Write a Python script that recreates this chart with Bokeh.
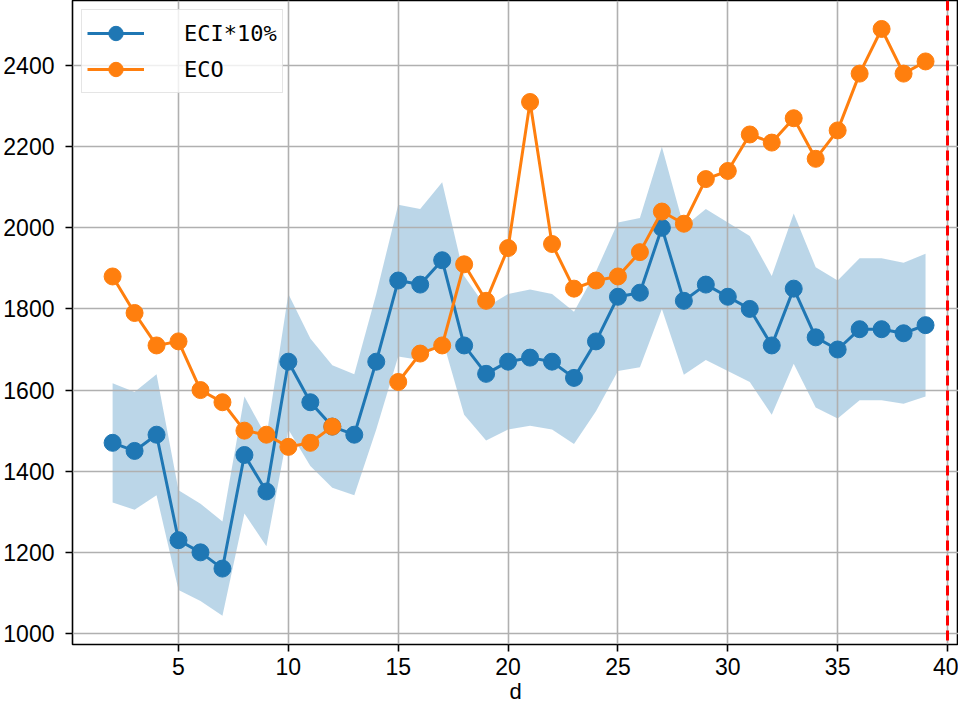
import numpy as np
from bokeh.plotting import figure
from bokeh.models import Range1d, FixedTicker, Span
from bokeh.embed import file_html
from bokeh.resources import INLINE

# ---- data ----
days = list(range(2, 40))
eci = [1470, 1450, 1490, 1230, 1200, 1160, 1440, 1350, 1670, 1570,
       1510, 1490, 1670, 1870, 1860, 1920, 1710, 1640, 1670, 1680,
       1670, 1630, 1720, 1830, 1840, 2000, 1820, 1860, 1830, 1800,
       1710, 1850, 1730, 1700, 1750, 1750, 1740, 1760]
eco = [1880, 1790, 1710, 1720, 1600, 1570, 1500, 1490, 1460, 1470,
       1510, None, None, 1620, 1690, 1710, 1910, 1820, 1950, 2310,
       1960, 1850, 1870, 1880, 1940, 2040, 2010, 2120, 2140, 2230,
       2210, 2270, 2170, 2240, 2380, 2490, 2380, 2410]
band_low_factor = 0.9
band_high_factor = 1.1
x_ticks = [5, 10, 15, 20, 25, 30, 35, 40]
y_ticks = [1000, 1200, 1400, 1600, 1800, 2000, 2200, 2400]
limit_day = 40
x_label = "d"
eci_label = "ECI*10%"
eco_label = "ECO"

eci_arr = np.array(eci, dtype=float)
eco_arr = np.array([np.nan if v is None else v for v in eco], dtype=float)
band_low = eci_arr * band_low_factor
band_high = eci_arr * band_high_factor

BLUE = "#1f77b4"
ORANGE = "#ff7f0e"
TICK_FONT = "Liberation Sans"
LEG_FONT = "DejaVu Sans Mono"

p = figure(width=958, height=709, output_backend="svg", toolbar_location=None,
           x_range=Range1d(0.175, 40.5), y_range=Range1d(972.9, 2560.2),
           min_border_left=72, min_border_right=0, min_border_top=0,
           min_border_bottom=65)

p.varea(x=days, y1=band_low, y2=band_high, fill_color=BLUE, fill_alpha=0.3,
        level="image")

p.line(days, eci_arr, line_color=BLUE, line_width=3, legend_label=eci_label)
p.scatter(days, eci_arr, marker="circle", size=17, fill_color=BLUE,
          line_color=BLUE, legend_label=eci_label)
p.line(days, eco_arr, line_color=ORANGE, line_width=3, legend_label=eco_label)
p.scatter(days, eco_arr, marker="circle", size=17, fill_color=ORANGE,
          line_color=ORANGE, legend_label=eco_label)

p.add_layout(Span(location=limit_day, dimension="height", line_color="#ff0000",
                  line_dash="10 5", line_width=3))

# axes
p.xaxis.ticker = FixedTicker(ticks=x_ticks)
p.yaxis.ticker = FixedTicker(ticks=y_ticks)
for ax in (p.xaxis, p.yaxis):
    ax.axis_line_color = None
    ax.major_tick_line_color = "black"
    ax.major_tick_line_width = 1.6
    ax.major_tick_out = 7
    ax.major_tick_in = 0
    ax.minor_tick_line_color = None
    ax.major_label_text_font = TICK_FONT
    ax.major_label_text_font_size = "23px"
    ax.major_label_text_color = "black"
p.xaxis.major_label_standoff = 6
p.yaxis.major_label_standoff = 11
p.xaxis.axis_label = x_label
p.xaxis.axis_label_text_font = TICK_FONT
p.xaxis.axis_label_text_font_style = "normal"
p.xaxis.axis_label_text_font_size = "22px"
p.xaxis.axis_label_text_color = "black"
p.xaxis.axis_label_standoff = 1

p.grid.grid_line_color = "#b0b0b0"
p.grid.grid_line_width = 1.6
p.xgrid.ticker = FixedTicker(ticks=x_ticks)
p.ygrid.ticker = FixedTicker(ticks=y_ticks)

p.outline_line_color = "black"
p.outline_line_width = 1.6
p.outline_line_alpha = 1.0

# legend
lg = p.legend[0]
lg.location = "top_left"
lg.margin = 9
lg.padding = 5
lg.spacing = 0
lg.glyph_width = 57
lg.glyph_height = 36
lg.label_height = 30
lg.label_standoff = 40
lg.label_text_font = LEG_FONT
lg.label_text_font_size = "22px"
lg.label_text_color = "black"
lg.border_line_color = "#cccccc"
lg.border_line_width = 1.5
lg.background_fill_alpha = 0.8

open("out.html", "w").write(file_html(p, INLINE))
